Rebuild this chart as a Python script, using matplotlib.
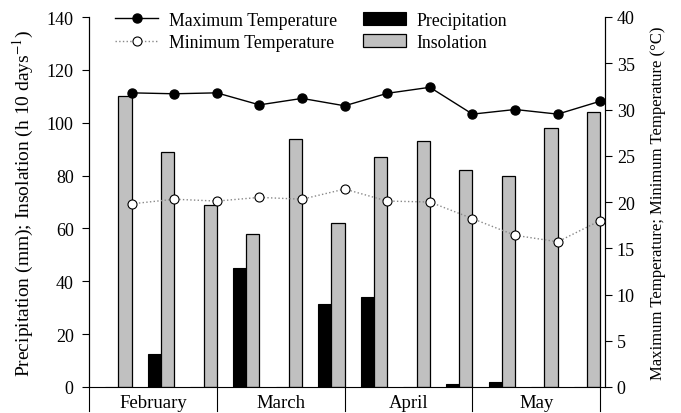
import matplotlib
matplotlib.use("Agg")
import matplotlib.pyplot as plt
import matplotlib.transforms as mtransforms
import numpy as np

plt.rcParams['font.family'] = ['Liberation Serif', 'DejaVu Serif']
plt.rcParams['mathtext.fontset'] = 'stix'

# dekads (3 per month), February to May
meses = ["February", "March", "April", "May"]
insolacao = [110, 89, 69, 58, 94, 62, 87, 93, 82, 80, 98, 104]
precipitacao = [0, 12.5, 0, 45, 0, 31.5, 34, 0, 1, 2, 0, 0]
t_max = [31.8, 31.7, 31.8, 30.5, 31.2, 30.4, 31.75, 32.4, 29.5, 30.0, 29.5, 30.9]
t_min = [19.8, 20.3, 20.1, 20.5, 20.3, 21.4, 20.1, 20.0, 18.2, 16.4, 15.7, 18.0]

x = np.arange(1, len(insolacao) + 1)
larg = 0.31

fig = plt.figure(figsize=(6.81, 4.14), dpi=100)
ax = fig.add_axes([89/681, 1 - 388/414, (605 - 89)/681, 370/414])
ax2 = ax.twinx()

b1 = ax.bar(x - 2*larg, precipitacao, width=larg, align='edge', color='black',
            edgecolor='black', linewidth=0.8, label='Precipitation')
b2 = ax.bar(x - larg, insolacao, width=larg, align='edge', color='#c0c0c0',
            edgecolor='black', linewidth=0.9, label='Insolation')

l1, = ax2.plot(x, t_max, '-', color='black', linewidth=1.0, marker='o',
               markersize=6.5, markerfacecolor='black', label='Maximum Temperature')
l2, = ax2.plot(x, t_min, ':', color='#888888', linewidth=1.0, marker='o',
               markersize=6.5, markerfacecolor='white', markeredgecolor='black',
               markeredgewidth=0.8, label='Minimum Temperature')

ax.set_xlim(0, 12.11)
ax.set_ylim(0, 140)
ax.set_yticks(np.arange(0, 141, 20))
ax2.set_ylim(0, 40)
ax2.set_yticks(np.arange(0, 41, 5))
ax.set_xticks([])

for a in (ax, ax2):
    a.spines['top'].set_visible(False)
    a.tick_params(axis='y', direction='out', length=5, width=0.8, labelsize=13)
ax.tick_params(axis='y', pad=6)
ax2.spines['bottom'].set_visible(False)

ax.set_ylabel("Precipitation (mm); Insolation (h 10 days$^{-1}$)", fontsize=14,
              labelpad=8)
ax2.set_ylabel("Maximum Temperature; Minimum Temperature (\u00b0C)", fontsize=12,
               labelpad=11)

# month dividers and labels under the axis
trans = mtransforms.blended_transform_factory(ax.transData, ax.transAxes)
for d in [0, 3, 6, 9, 12]:
    ax.plot([d, d], [0, -0.065], color='black', linewidth=0.8,
            transform=trans, clip_on=False)
for i, m in enumerate(meses):
    ax.text(3*i + 1.5, -0.042, m, transform=trans, ha='center', va='center',
            fontsize=13.5)

ax2.legend([l1, l2, b1, b2],
           ['Maximum Temperature', 'Minimum Temperature', 'Precipitation', 'Insolation'],
           ncol=2, frameon=False, fontsize=12.8, handlelength=2.4,
           columnspacing=1.5, handletextpad=0.6, labelspacing=0.3,
           loc='upper left', bbox_to_anchor=(0.02, 1.058))

fig.savefig("out.png", dpi=100)
